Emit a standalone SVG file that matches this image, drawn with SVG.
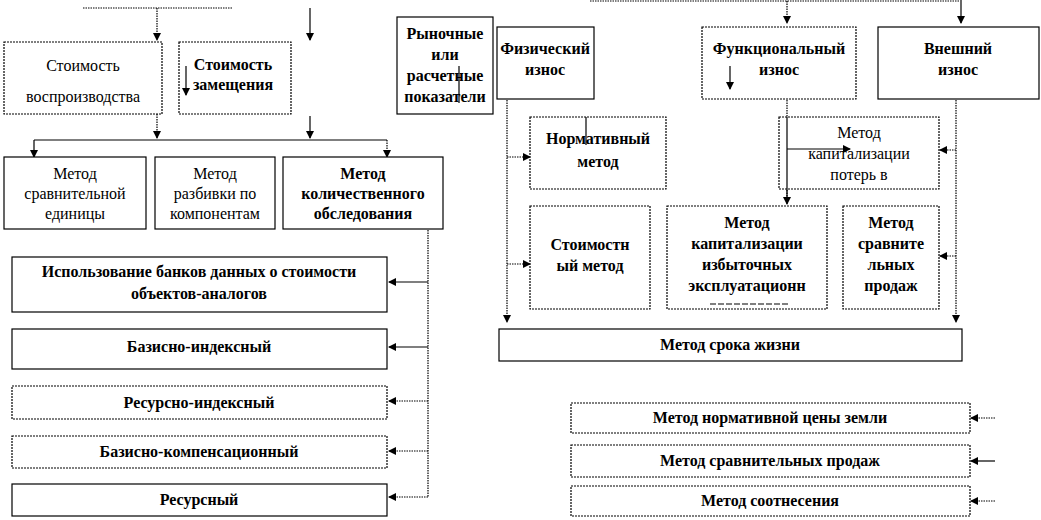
<svg xmlns="http://www.w3.org/2000/svg" width="1041" height="520" viewBox="0 0 1041 520" font-family="'Liberation Serif','DejaVu Serif',serif">
<style>
.b{fill:#fff;stroke:#000;stroke-width:1.2}
.d{fill:#fff;stroke:#000;stroke-width:1.2;stroke-dasharray:2 1}
text{font-family:'Liberation Serif','Times New Roman','DejaVu Serif',serif;font-size:16px;text-anchor:middle;fill:#000}
.t{font-weight:bold;font-size:16px}
.l{stroke:#000;stroke-width:1.2;fill:none}
.ld{stroke:#000;stroke-width:1.2;fill:none;stroke-dasharray:1.5 1}
</style>
<defs><marker id="a" markerWidth="8" markerHeight="8" refX="7" refY="4" orient="auto" markerUnits="userSpaceOnUse"><path d="M0,0L8,4L0,8z"/></marker></defs>
<g id="connectors">
<path class="ld" d="M83,8H233M157,8V40" marker-end="url(#a)"/>
<path class="l" d="M310,8V40" marker-end="url(#a)"/>
<path class="ld" d="M157,114V138" marker-end="url(#a)"/>
<path class="l" d="M310,116V138" marker-end="url(#a)"/>
<path class="l" d="M34,140H387M34,140V157" marker-end="url(#a)"/>
<path class="ld" d="M387,140V157" marker-end="url(#a)"/>
<path class="ld" d="M428,230V497"/>
<path class="l" d="M428,282H389" marker-end="url(#a)"/>
<path class="l" d="M428,347H389" marker-end="url(#a)"/>
<path class="ld" d="M428,401H389" marker-end="url(#a)"/>
<path class="ld" d="M428,451H389" marker-end="url(#a)"/>
<path class="ld" d="M428,497H389" marker-end="url(#a)"/>
<path class="ld" d="M590,1H960M787,1V23" marker-end="url(#a)"/>
<path class="l" d="M961,0V23" marker-end="url(#a)"/>
<path class="ld" d="M507,100V322" marker-end="url(#a)"/>
<path class="ld" d="M507,157H530" marker-end="url(#a)"/>
<path class="ld" d="M507,264H530" marker-end="url(#a)"/>
<path class="ld" d="M956,100V322" marker-end="url(#a)"/>
<path class="ld" d="M956,150H940" marker-end="url(#a)"/>
<path class="ld" d="M956,256H940" marker-end="url(#a)"/>
<path class="ld" d="M787,100V204" marker-end="url(#a)"/>
<path class="ld" d="M995,418H971" marker-end="url(#a)"/>
<path class="l" d="M995,461H971" marker-end="url(#a)"/>
<path class="ld" d="M995,501H971" marker-end="url(#a)"/>
</g>
<g id="n1"><rect class="d" x="4" y="42" width="158" height="72"/><text x="83" y="71">Стоимость</text><text x="83" y="102">воспроизводства</text></g>
<g id="n2"><rect class="d" x="179" y="42" width="112" height="72"/><text class="t" x="233" y="70">Стоимость</text><text class="t" x="233" y="90">замещения</text><path class="l" d="M186,66V95" marker-end="url(#a)"/></g>
<g id="n3"><rect class="b" x="4" y="157" width="142" height="72"/><text x="75" y="179">Метод</text><text x="75" y="199">сравнительной</text><text x="75" y="219">единицы</text></g>
<g id="n4"><rect class="b" x="155" y="157" width="120" height="72"/><text x="215" y="179">Метод</text><text x="215" y="199">разбивки по</text><text x="215" y="219">компонентам</text></g>
<g id="n5"><rect class="b" x="283" y="157" width="160" height="72"/><text class="t" x="363" y="179">Метод</text><text class="t" x="363" y="199">количественного</text><text class="t" x="363" y="219">обследования</text></g>
<g id="n6"><rect class="b" x="12" y="257" width="375" height="55"/><text class="t" x="199" y="277">Использование банков данных о стоимости</text><text class="t" x="199" y="299">объектов-аналогов</text></g>
<g id="n7"><rect class="b" x="12" y="329" width="375" height="40"/><text class="t" x="199" y="352">Базисно-индексный</text></g>
<g id="n8"><rect class="d" x="12" y="386" width="375" height="33"/><text class="t" x="199" y="408">Ресурсно-индексный</text></g>
<g id="n9"><rect class="d" x="12" y="436" width="375" height="32"/><text class="t" x="199" y="457">Базисно-компенсационный</text></g>
<g id="n10"><rect class="b" x="12" y="484" width="375" height="32"/><text class="t" x="199" y="505">Ресурсный</text></g>
<g id="n11"><rect class="b" x="397" y="17" width="96" height="97"/><text class="t" x="445" y="39">Рыночные</text><text class="t" x="445" y="60">или</text><text class="t" x="445" y="81">расчетные</text><text class="t" x="445" y="102">показатели</text><path class="l" d="M459,66V103"/></g>
<g id="n12"><rect class="b" x="497" y="27" width="97" height="72"/><text class="t" x="545" y="54">Физический</text><text class="t" x="545" y="75">износ</text></g>
<g id="n13"><rect class="d" x="702" y="27" width="154" height="72"/><text class="t" x="779" y="54">Функциональный</text><text class="t" x="779" y="75">износ</text><path class="l" d="M730,66V89" marker-end="url(#a)"/></g>
<g id="n14"><rect class="b" x="878" y="27" width="161" height="72"/><text class="t" x="958" y="54">Внешний</text><text class="t" x="958" y="75">износ</text></g>
<g id="n15"><rect class="d" x="530" y="117" width="136" height="72"/><text class="t" x="598" y="144">Нормативный</text><text class="t" x="598" y="167">метод</text><path class="l" d="M586,117V145"/></g>
<g id="n16"><rect class="d" x="779" y="117" width="160" height="72"/><text x="859" y="138">Метод</text><text x="859" y="159">капитализации</text><text x="859" y="180">потерь в</text><path class="l" d="M787,117V199M787,149H850" marker-end="url(#a)"/></g>
<g id="n17"><rect class="d" x="530" y="206" width="120" height="103"/><text class="t" x="590" y="250">Стоимостн</text><text class="t" x="590" y="271">ый метод</text></g>
<g id="n18"><rect class="d" x="667" y="206" width="160" height="103"/><text class="t" x="747" y="228">Метод</text><text class="t" x="747" y="249">капитализации</text><text class="t" x="747" y="270">избыточных</text><text class="t" x="747" y="291">эксплуатационн</text><path class="l" stroke-dasharray="6 2" d="M710,304H790"/></g>
<g id="n19"><rect class="d" x="843" y="206" width="96" height="103"/><text class="t" x="891" y="228">Метод</text><text class="t" x="891" y="249">сравните</text><text class="t" x="891" y="270">льных</text><text class="t" x="891" y="291">продаж</text></g>
<g id="n20"><rect class="b" x="499" y="329" width="463" height="32"/><text class="t" x="730" y="350">Метод срока жизни</text></g>
<g id="n21"><rect class="d" x="571" y="403" width="399" height="30"/><text class="t" x="770" y="423">Метод нормативной цены земли</text></g>
<g id="n22"><rect class="d" x="571" y="445" width="399" height="32"/><text class="t" x="770" y="466">Метод сравнительных продаж</text></g>
<g id="n23"><rect class="d" x="571" y="486" width="399" height="30"/><text class="t" x="770" y="506">Метод соотнесения</text></g>
</svg>
